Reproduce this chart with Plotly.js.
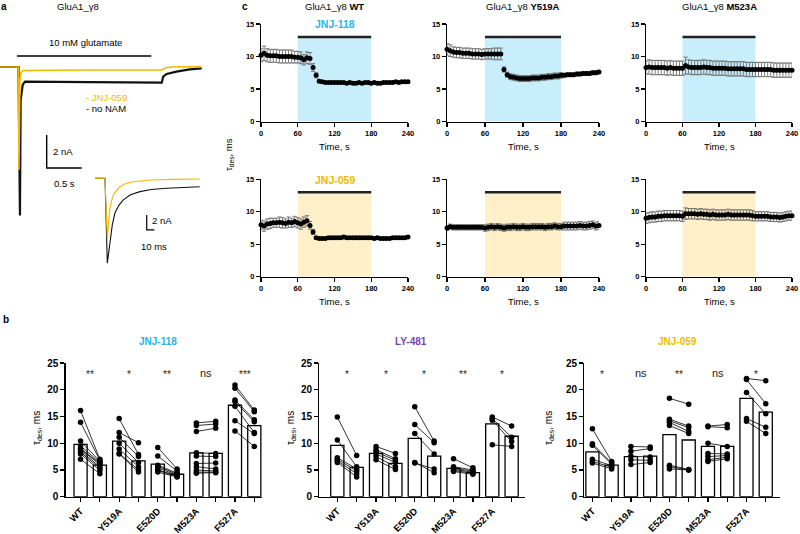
<!DOCTYPE html>
<html><head><meta charset="utf-8">
<script src="https://cdn.plot.ly/plotly-3.0.1.min.js"></script>
<style>html,body{margin:0;padding:0;background:#fff}#chart{width:800px;height:534px}</style>
</head><body><div id="chart"></div>
<script>
// ================= PANEL a : current traces =================
// main trace (time in s, current in nA)
const mainT_noNAM = [-0.26, 0.003, 0.024, 0.034, 0.063, 0.096, 1.02, 2.05, 2.07, 2.12, 2.26, 2.45, 2.62];
const mainI_noNAM = [0, 0, -9.0, -2.0, -1.09, -0.89, -0.92, -0.95, -0.59, -0.42, -0.28, -0.14, -0.08];
const mainT_JNJ059 = [-0.26, 0, 0.01, 0.024, 0.039, 0.067, 1.02, 2.05, 2.10, 2.17, 2.61];
const mainI_JNJ059 = [0, 0, -6.24, -0.79, -0.36, -0.21, -0.18, -0.18, -0.06, 0, 0.02];
// inset (time in ms, current in nA)
const insetT_noNAM = [-13, 0, 3.0, 4.5, 6.5, 9.5, 13, 18, 23.4, 33, 45.5, 60, 80, 100, 123];
const insetI_noNAM = [0, 0, -11.33, -10.0, -8.2, -6.2, -4.6, -3.6, -2.9, -2.2, -1.78, -1.5, -1.33, -1.2, -1.12];
const insetT_JNJ059 = [-13, 0, 3.0, 4.5, 6.0, 8.7, 12, 19.5, 27, 36.4, 58.4, 90, 123];
const insetI_JNJ059 = [0, 0, -8.0, -6.0, -4.3, -2.9, -2.0, -1.12, -0.7, -0.45, -0.23, -0.14, -0.09];
const glutamateOn = 0, glutamateOff = 1.9;       // s
const mainScaleT = 0.5, mainScaleI = 2;          // s, nA
const insetScaleT = 10, insetScaleI = 2;         // ms, nA

// ================= PANEL c : tau_des time courses =================
const timeS = [0,5,10,15,20,25,30,35,40,45,50,55,60,65,70,75,80,85,90,95,100,105,110,115,120,125,130,135,140,145,150,155,160,165,170,175,180,185,190,195,200,205,210,215,220,225,230,235,240];
const tau_WT_118 = [10.2,10.5,10.2,10.1,10.1,10.1,10.0,10.0,10.0,10.0, 10.0,9.9,9.9,9.8,9.5,9.8,9.7,8.3,7.1,6.2, 6.1,6.0,6.0,6.0,6.0,6.0,6.0,6.0,5.9,6.0, 5.9,5.9,6.0,5.9,6.0,6.0,5.9,6.0,5.9,5.9, 6.0,6.0,6.0,6.0,6.1,6.0,6.1,6.1,6.1];
const err_WT_118 = [1.0,1.1,1.0,1.0,1.0,1.0,1.0,1.0,1.0,1.0, 1.0,0.9,0.9,0.9,0.8,0.9,0.9,0.6,0.4,0.2, 0.15,0.15,0.15,0.15,0.15,0.15,0.15,0.15,0.15,0.15, 0.15,0.15,0.15,0.15,0.15,0.15,0.15,0.15,0.15,0.15, 0.15,0.15,0.15,0.15,0.15,0.15,0.15,0.15,0.15];
const tau_Y519A_118 = [11.1,10.9,10.7,10.6,10.6,10.5,10.5,10.5,10.4,10.4, 10.4,10.3,10.4,10.4,10.4,10.4,10.4,10.4,8.0,7.2, 6.9,6.8,6.7,6.6,6.6,6.6,6.6,6.7,6.7,6.7, 6.8,6.8,6.9,6.9,7.0,7.0,7.1,7.1,7.2,7.2, 7.2,7.3,7.3,7.4,7.4,7.4,7.5,7.5,7.6];
const err_Y519A_118 = [0.9,0.9,0.8,0.8,0.8,0.8,0.8,0.8,0.8,0.8, 0.8,0.8,0.8,0.8,0.8,0.9,0.9,0.9,0.4,0.4, 0.45,0.45,0.45,0.45,0.45,0.45,0.45,0.45,0.45,0.45, 0.45,0.45,0.45,0.45,0.45,0.45,0.45,0.3,0.3,0.3, 0.3,0.3,0.3,0.3,0.3,0.3,0.3,0.3,0.3];
const tau_M523A_118 = [8.3,8.4,8.3,8.3,8.3,8.3,8.3,8.2,8.3,8.2, 8.2,8.2,8.2,8.6,8.4,8.3,8.3,8.3,8.3,8.4, 8.3,8.3,8.2,8.2,8.2,8.2,8.2,8.1,8.1,8.1, 8.1,8.1,8.1,8.0,8.0,8.0,8.0,8.0,8.0,8.0, 8.0,8.0,7.9,7.9,7.9,7.9,7.9,7.9,7.9];
const err_M523A_118 = [1.0,1.1,1.1,1.1,1.1,1.1,1.1,1.1,1.1,1.1, 1.1,1.1,1.1,1.3,1.1,1.1,1.1,1.1,1.1,1.1, 1.1,1.1,1.1,1.1,1.1,1.1,1.1,1.1,1.1,1.1, 1.1,1.1,1.1,1.1,1.1,1.1,1.1,1.1,1.1,1.1, 1.1,1.1,1.1,1.1,1.1,1.1,1.1,1.1,1.1];
const tau_WT_059 = [8.0,7.8,8.1,8.2,8.3,8.3,8.4,8.3,8.2,8.4, 8.3,8.5,8.3,8.1,8.4,8.6,7.9,6.9,6.0,5.9, 5.9,5.9,6.0,6.0,6.0,6.0,6.0,6.1,6.0,6.0, 6.0,6.0,6.0,6.0,6.0,6.0,6.0,5.9,6.0,5.9, 5.9,5.9,5.9,6.0,6.0,6.0,6.0,6.0,6.1];
const err_WT_059 = [0.7,0.8,0.8,0.8,0.7,0.7,0.8,0.8,0.7,0.8, 0.7,0.8,0.8,0.8,0.8,0.8,0.6,0.4,0.15,0.15, 0.15,0.15,0.15,0.15,0.15,0.15,0.15,0.15,0.15,0.15, 0.15,0.15,0.15,0.15,0.15,0.15,0.15,0.15,0.15,0.15, 0.15,0.15,0.15,0.15,0.15,0.15,0.15,0.15,0.15];
const tau_Y519A_059 = [7.5,7.7,7.6,7.6,7.6,7.6,7.6,7.6,7.6,7.6, 7.6,7.6,7.5,7.6,7.7,7.6,7.7,7.6,7.5,7.6, 7.6,7.7,7.6,7.6,7.7,7.6,7.6,7.7,7.7,7.7, 7.7,7.6,7.7,7.7,7.8,7.7,7.7,7.8,7.8,7.8, 7.8,7.8,7.9,7.8,7.8,7.9,8.0,7.8,7.9];
const err_Y519A_059 = [0.4,0.4,0.4,0.4,0.4,0.4,0.4,0.4,0.4,0.4, 0.4,0.4,0.5,0.5,0.5,0.5,0.5,0.5,0.5,0.5, 0.5,0.5,0.5,0.5,0.5,0.5,0.5,0.5,0.5,0.5, 0.5,0.5,0.5,0.5,0.5,0.5,0.5,0.6,0.6,0.6, 0.6,0.6,0.6,0.6,0.6,0.6,0.6,0.6,0.6];
const tau_M523A_059 = [9.0,9.1,9.2,9.2,9.3,9.3,9.4,9.4,9.4,9.4, 9.4,9.4,9.3,9.7,9.7,9.7,9.7,9.6,9.7,9.6, 9.6,9.5,9.6,9.5,9.5,9.5,9.5,9.6,9.5,9.5, 9.5,9.5,9.5,9.5,9.5,9.4,9.3,9.3,9.3,9.3, 9.3,9.2,9.2,9.2,9.1,9.2,9.3,9.4,9.4];
const err_M523A_059 = [0.8,0.8,0.8,0.8,0.8,0.8,0.8,0.8,0.8,0.8, 0.8,0.8,0.8,0.9,0.8,0.8,0.8,0.8,0.8,0.8, 0.8,0.8,0.8,0.8,0.8,0.8,0.8,0.8,0.8,0.8, 0.8,0.8,0.8,0.8,0.8,0.8,0.7,0.7,0.7,0.7, 0.7,0.7,0.7,0.7,0.7,0.7,0.7,0.7,0.7];
const drugStart = 60, drugStop = 180, drugBarLevel = 13;
const cColumnTitles = ['WT', 'Y519A', 'M523A'];
const cTimeTicks = [0, 60, 120, 180, 240];
const cTauTicks = [0, 5, 10, 15];

// ================= PANEL b : paired tau_des =================
const mutants = ['WT', 'Y519A', 'E520D', 'M523A', 'F527A'];
const bTauTicks = [0, 5, 10, 15, 20, 25];
const jnj118_barBefore = [9.8, 10.4, 6.1, 8.2, 17.1];
const jnj118_barAfter  = [5.9, 6.7, 4.2, 8.1, 13.3];
const jnj118_before = [[16.1,13.9,10.4,9.5,9.0,8.9,8.6,8.3,8.0,7.0],[14.6,12.0,11.1,10.0,8.9,8.1,8.0],[9.2,7.6,5.9,5.7,5.4,5.0,4.9,4.6],[13.8,13.3,12.2,8.2,7.6,6.2,5.6,5.0,4.6,4.4],[20.9,20.3,18.1,17.8,16.9,14.2,12.3]];
const jnj118_after  = [[7.0,6.8,6.6,6.4,6.2,6.0,5.6,5.3,4.9,4.3],[7.9,10.1,7.5,6.4,5.6,5.0,4.6],[5.2,4.8,4.4,4.2,4.0,3.9,3.8,3.7],[14.1,13.6,12.8,8.1,7.5,6.3,5.2,4.8,4.6,4.5],[16.2,15.9,14.4,14.0,12.0,11.8,9.4]];
const jnj118_sig = ['**', '*', '**', 'ns', '***'];
const ly481_barBefore = [9.6, 8.1, 10.9, 5.3, 13.6];
const ly481_barAfter  = [5.5, 6.25, 7.6, 4.5, 11.3];
const ly481_before = [[14.9,10.6,7.3,7.0,6.7,6.4],[9.4,8.8,8.4,8.0,7.5,6.9],[16.8,13.5,11.8,6.4,6.3],[7.1,5.6,5.3,5.1,4.9,4.7],[14.9,14.6,14.3,9.7]];
const ly481_after  = [[7.7,5.6,5.2,4.8,4.3,3.7],[8.1,7.1,6.8,6.4,5.6,5.1],[10.4,10.1,8.0,4.5,5.2],[5.4,5.0,4.8,4.6,4.4,4.2],[13.2,11.1,10.3,9.4]];
const ly481_sig = ['*', '*', '*', '**', '*'];
const jnj059_barBefore = [8.4, 7.5, 11.6, 9.4, 18.4];
const jnj059_barAfter  = [5.9, 7.6, 10.6, 9.4, 15.8];
const jnj059_before = [[12.7,9.9,9.6,7.0,6.6,6.3],[9.4,8.5,7.6,6.9,6.0],[18.4,14.5,14.2,13.9,13.3,5.9,5.6,5.2],[13.2,13.1,10.0,8.1,7.5,6.9,6.6],[22.1,21.9,19.5,14.6,14.1]];
const jnj059_after  = [[6.6,6.3,6.1,5.8,5.5,5.2],[9.3,9.0,7.4,6.8,6.4],[17.3,13.2,12.9,12.2,11.8,5.1,5.0,5.0],[13.5,12.9,9.4,8.0,7.7,7.4,7.1],[21.7,17.4,15.5,13.0,11.8]];
const jnj059_sig = ['*', 'ns', '**', 'ns', '*'];
const sigLevel = 23.2;

// ================= styling =================
const FONT = 'Arial, "Liberation Sans", sans-serif';
const BLUE = '#27b4ee', YELLOW = '#f6b800', PURPLE = '#7b3fae';
const BLUE_FILL = '#c8eefb', YELLOW_FILL = '#fff0c9';
const P = x => x / 800, Q = y => 1 - y / 534;

[[tau_WT_118,err_WT_118],[tau_Y519A_118,err_Y519A_118],[tau_M523A_118,err_M523A_118],[tau_WT_059,err_WT_059],[tau_Y519A_059,err_Y519A_059],[tau_M523A_059,err_M523A_059]].forEach((p,k)=>{
  if (p[0].length !== timeS.length || p[1].length !== timeS.length) throw new Error('length mismatch in series '+k+': '+p[0].length+'/'+p[1].length);
});

const traces = [];
const layout = {
  width: 800, height: 534, margin: {l:0, r:0, t:0, b:0},
  paper_bgcolor: '#fff', plot_bgcolor: 'rgba(0,0,0,0)', showlegend: false,
  font: {family: FONT, color: '#000', size: 10},
  shapes: [], annotations: []
};
function ann(o) { layout.annotations.push(Object.assign({showarrow:false, xref:'paper', yref:'paper', xanchor:'center', yanchor:'middle', font:{family:FONT, size:9.5, color:'#000'}}, o)); }

// ---------- panel a ----------
layout.xaxis  = {domain:[0, P(210)], range:[-0.261, 2.739], visible:false, fixedrange:true, anchor:'y'};
layout.yaxis  = {domain:[Q(225), Q(40)], range:[-9.576, 1.636], visible:false, fixedrange:true, anchor:'x'};
layout.xaxis2 = {domain:[P(90), P(210)], range:[-19.48, 136.4], visible:false, fixedrange:true, anchor:'y2'};
layout.yaxis2 = {domain:[Q(270), Q(170)], range:[-12.227, 1.107], visible:false, fixedrange:true, anchor:'x2'};
traces.push({type:'scatter', mode:'lines', x:mainT_noNAM, y:mainI_noNAM, xaxis:'x', yaxis:'y', line:{color:'#111', width:2.2}, hoverinfo:'skip'});
traces.push({type:'scatter', mode:'lines', x:mainT_JNJ059, y:mainI_JNJ059, xaxis:'x', yaxis:'y', line:{color:YELLOW, width:1.6}, hoverinfo:'skip'});
traces.push({type:'scatter', mode:'lines', x:insetT_noNAM, y:insetI_noNAM, xaxis:'x2', yaxis:'y2', line:{color:'#111', width:1.1}, hoverinfo:'skip'});
traces.push({type:'scatter', mode:'lines', x:insetT_JNJ059, y:insetI_JNJ059, xaxis:'x2', yaxis:'y2', line:{color:YELLOW, width:1.1}, hoverinfo:'skip'});
layout.shapes.push({type:'line', xref:'x', yref:'y', x0:glutamateOn - 0.02, x1:glutamateOff, y0:0.67, y1:0.67, line:{color:'#000', width:1.4}});
const sbT = 0.406, sbI = -4.12;
layout.shapes.push({type:'path', xref:'x', yref:'y', path:`M${sbT},${sbI} L${sbT},${sbI-mainScaleI} L${sbT+mainScaleT},${sbI-mainScaleI}`, line:{color:'#000', width:1.4}});
const isT = 54.2, isI = -4.89;
layout.shapes.push({type:'path', xref:'x2', yref:'y2', path:`M${isT},${isI} L${isT},${isI-insetScaleI} L${isT+insetScaleT},${isI-insetScaleI}`, line:{color:'#000', width:1.2}});
ann({x:P(4), y:Q(6), text:'<b>a</b>', font:{family:FONT, size:10, color:'#000'}});
ann({x:P(78), y:Q(6), text:'GluA1_γ8'});
ann({x:P(85), y:Q(43), text:'10 mM glutamate'});
ann({x:P(84), y:Q(97), text:'- JNJ-059', xanchor:'left', font:{family:FONT, size:9.5, color:YELLOW}});
ann({x:P(84), y:Q(108), text:'- no NAM', xanchor:'left'});
ann({x:P(51), y:Q(151), text:mainScaleI + ' nA', xanchor:'left'});
ann({x:P(52), y:Q(183), text:mainScaleT + ' s', xanchor:'left'});
ann({x:P(150), y:Q(220), text:insetScaleI + ' nA', xanchor:'left'});
ann({x:P(139), y:Q(246), text:insetScaleT + ' ms', xanchor:'left'});

// ---------- panel c ----------
const cCols = [[261, 408], [447, 599], [646, 792]];
const cRows = [[24, 121.5], [179.3, 276.7]];
const cSeries = [
  [tau_WT_118, err_WT_118], [tau_Y519A_118, err_Y519A_118], [tau_M523A_118, err_M523A_118],
  [tau_WT_059, err_WT_059], [tau_Y519A_059, err_Y519A_059], [tau_M523A_059, err_M523A_059]
];
const tickFontC = {family:FONT, size:7.5, color:'#000', weight:'bold'};
cSeries.forEach((s, k) => {
  const r = Math.floor(k / 3), c = k % 3, n = 3 + k;
  layout['xaxis'+n] = {domain:[P(cCols[c][0]), P(cCols[c][1])], range:[0, 240], anchor:'y'+n, showline:true, linecolor:'#000', linewidth:1.2,
    ticks:'outside', ticklen:4, tickwidth:1.2, tickcolor:'#000', tickvals:cTimeTicks, tickfont:tickFontC, showgrid:false, zeroline:false, fixedrange:true};
  layout['yaxis'+n] = {domain:[Q(cRows[r][1]), Q(cRows[r][0])], range:[0, 15], anchor:'x'+n, showline:true, linecolor:'#000', linewidth:1.2,
    ticks:'outside', ticklen:4, tickwidth:1.2, tickcolor:'#000', tickvals:cTauTicks, tickfont:tickFontC, showgrid:false, zeroline:false, fixedrange:true};
  layout.shapes.push({type:'rect', xref:'x'+n, yref:'y'+n, x0:drugStart, x1:drugStop, y0:0, y1:drugBarLevel, fillcolor: r === 0 ? BLUE_FILL : YELLOW_FILL, line:{width:0}, layer:'below'});
  layout.shapes.push({type:'line', xref:'x'+n, yref:'y'+n, x0:drugStart, x1:drugStop, y0:drugBarLevel, y1:drugBarLevel, line:{color:'#222', width:2.4}});
  traces.push({type:'scatter', mode:'markers', x:timeS, y:s[0], xaxis:'x'+n, yaxis:'y'+n, cliponaxis:false,
    marker:{color:'#000', size:5}, error_y:{type:'data', array:s[1], visible:true, color:'#6e6e6e', thickness:0.9, width:2.2}, hoverinfo:'skip'});
  const cx = (cCols[c][0] + cCols[c][1]) / 2;
  ann({x:P(cx), y:Q(cRows[r][1] + 25), text:'Time, s'});
  if (r === 0) ann({x:P(cx), y:Q(6), text:'GluA1_γ8 <b>' + cColumnTitles[c] + '</b>'});
});
ann({x:(drugStart + drugStop) / 2, xref:'x3', y:Q(24), text:'<b>JNJ-118</b>', font:{family:FONT, size:10.5, color:BLUE}});
ann({x:(drugStart + drugStop) / 2, xref:'x6', y:Q(180), text:'<b>JNJ-059</b>', font:{family:FONT, size:10.5, color:YELLOW}});
ann({x:P(229), y:Q(155), text:'τ<sub>des</sub>, ms', textangle:-90});
ann({x:P(245), y:Q(6), text:'<b>c</b>', font:{family:FONT, size:10, color:'#000'}});

// ---------- panel b ----------
const bCharts = [
  {title:'JNJ-118', color:BLUE, barB:jnj118_barBefore, barA:jnj118_barAfter, before:jnj118_before, after:jnj118_after, sig:jnj118_sig, dom:[65.7, 262], range:[-0.77, 9.4], titleX:158, yTitleX:37},
  {title:'LY-481', color:PURPLE, barB:ly481_barBefore, barA:ly481_barAfter, before:ly481_before, after:ly481_after, sig:ly481_sig, dom:[319.3, 525], range:[-0.93, 9.69], titleX:411, yTitleX:291},
  {title:'JNJ-059', color:YELLOW, barB:jnj059_barBefore, barA:jnj059_barAfter, before:jnj059_before, after:jnj059_after, sig:jnj059_sig, dom:[584.3, 780], range:[-0.42, 9.74], titleX:677, yTitleX:549}
];
const tickFontB = {family:FONT, size:10, color:'#000', weight:'bold'};
const tickFontBx = {family:FONT, size:9.5, color:'#000', weight:'bold'};
bCharts.forEach((ch, k) => {
  const n = 9 + k;
  const tv = mutants.map((m, i) => 2*i);
  layout['xaxis'+n] = {domain:[P(ch.dom[0]), P(ch.dom[1])], range:ch.range, anchor:'y'+n, showline:true, linecolor:'#000', linewidth:1.3,
    ticks:'outside', ticklen:4, tickwidth:1.2, tickcolor:'#000', tickvals:tv, ticktext:mutants, tickangle:-45, tickfont:tickFontBx,
    minor:{ticks:'outside', ticklen:4, tickwidth:1.2, tickcolor:'#000', tick0:1, dtick:2, showgrid:false},
    showgrid:false, zeroline:false, fixedrange:true};
  layout['yaxis'+n] = {domain:[Q(496.7), Q(363)], range:[0, 25], anchor:'x'+n, showline:true, linecolor:'#000', linewidth:1.3,
    ticks:'outside', ticklen:4, tickwidth:1.2, tickcolor:'#000', tickvals:bTauTicks, tickfont:tickFontB, showgrid:false, zeroline:false, fixedrange:true};
  const bx = [], by = [];
  mutants.forEach((m, i) => { bx.push(2*i, 2*i+1); by.push(ch.barB[i], ch.barA[i]); });
  traces.push({type:'bar', x:bx, y:by, width:0.68, xaxis:'x'+n, yaxis:'y'+n, marker:{color:'#fff', line:{color:'#000', width:1.3}}, hoverinfo:'skip'});
  const dx = [], dy = [];
  mutants.forEach((m, i) => {
    ch.before[i].forEach((v, j) => { dx.push(2*i, 2*i+1, null); dy.push(v, ch.after[i][j], null); });
  });
  traces.push({type:'scatter', mode:'lines+markers', x:dx, y:dy, xaxis:'x'+n, yaxis:'y'+n, cliponaxis:false, connectgaps:false,
    marker:{color:'#000', size:5.5}, line:{color:'#000', width:0.8}, hoverinfo:'skip'});
  ch.sig.forEach((s, i) => {
    ann({x:2*i+0.5, xref:'x'+n, y:s === 'ns' ? sigLevel : sigLevel - 0.3, yref:'y'+n, text:s,
      font:{family:FONT, size: s === 'ns' ? 11 : 10, color:'#222'}});
  });
  ann({x:P(ch.titleX), y:Q(341), text:'<b>' + ch.title + '</b>', font:{family:FONT, size:10, color:ch.color}});
  ann({x:P(ch.yTitleX), y:Q(428), text:'τ<sub>des</sub>, ms', textangle:-90, font:{family:FONT, size:10, color:'#000'}});
});
ann({x:P(6), y:Q(319), text:'<b>b</b>', font:{family:FONT, size:10, color:'#000'}});

Plotly.newPlot('chart', traces, layout, {displayModeBar:false, staticPlot:true});
</script></body></html>
